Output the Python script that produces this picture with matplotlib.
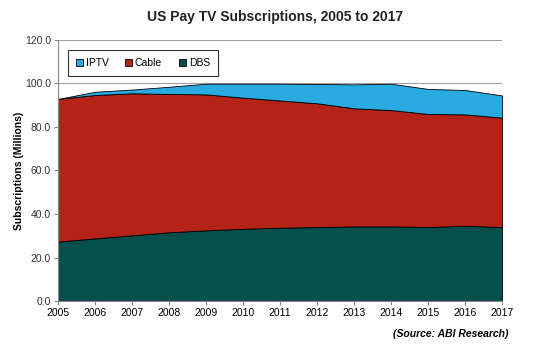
import numpy as np
import matplotlib.pyplot as plt
from matplotlib.patches import Patch

plt.rcParams['font.family'] = ['Liberation Sans', 'DejaVu Sans']

years = [2005, 2006, 2007, 2008, 2009, 2010, 2011, 2012, 2013, 2014, 2015, 2016, 2017]
dbs = [27.3, 28.8, 30.2, 31.6, 32.5, 33.2, 33.7, 34.0, 34.3, 34.3, 34.0, 34.6, 34.0]
cable = [65.6, 65.9, 65.3, 63.6, 62.5, 60.3, 58.5, 56.9, 54.3, 53.5, 52.0, 51.2, 50.3]
iptv = [0.0, 1.5, 1.7, 3.3, 4.9, 6.4, 7.7, 8.9, 11.0, 12.1, 11.5, 11.2, 10.2]

col_iptv = '#29abe2'
col_cable = '#b52318'
col_dbs = '#034f4b'

fig = plt.figure(figsize=(5.5, 3.53), dpi=100)
ax = fig.add_axes([0.1055, 0.1473, 0.8073, 0.7394])

polys = ax.stackplot(years, dbs, cable, iptv,
                     colors=[col_dbs, col_cable, col_iptv],
                     edgecolor='black', linewidth=0.6, zorder=2)

ax.set_xlim(2005, 2017)
ax.set_ylim(0, 120)
ax.set_xticks(years)
ax.set_yticks(np.arange(0, 121, 20))
ax.set_yticklabels([f"{v:.1f}" for v in np.arange(0, 121, 20)])
ax.yaxis.grid(True, color='#a0a0a0', linewidth=0.8, zorder=0)
ax.set_axisbelow(True)
ax.tick_params(axis='both', labelsize=7.5, length=3,
               width=0.8, direction='out', pad=2)
ax.tick_params(axis='x', colors='#888888', labelcolor='black')
ax.tick_params(axis='y', colors='#888888', labelcolor='#333333')

for s in ['top', 'right']:
    ax.spines[s].set_visible(False)
for s in ['left', 'bottom']:
    ax.spines[s].set_color('#888888')
    ax.spines[s].set_linewidth(0.8)

ax.set_ylabel('Subscriptions (Millions)', fontsize=7.5, fontweight='bold', labelpad=1)

fig.text(0.5, 0.952, 'US Pay TV Subscriptions, 2005 to 2017', ha='center', va='center',
         fontsize=10, fontweight='bold', color='#222222')

handles = [Patch(facecolor=col_iptv, edgecolor='black', linewidth=0.6, label='IPTV'),
           Patch(facecolor=col_cable, edgecolor='black', linewidth=0.6, label='Cable'),
           Patch(facecolor=col_dbs, edgecolor='black', linewidth=0.6, label='DBS')]
leg = ax.legend(handles=handles, loc='upper left', bbox_to_anchor=(0.022, 0.96), ncol=3,
                fontsize=7.5, frameon=True, fancybox=False, handlelength=0.7,
                handleheight=0.7, handletextpad=0.25, columnspacing=1.6,
                borderpad=0.75, borderaxespad=0)
leg.get_frame().set_edgecolor('black')
leg.get_frame().set_linewidth(0.8)

fig.text(0.925, 0.054, '(Source: ABI Research)', ha='right', va='center',
         fontsize=7.5, fontweight='bold', fontstyle='italic')

fig.savefig('out.png', dpi=100)
